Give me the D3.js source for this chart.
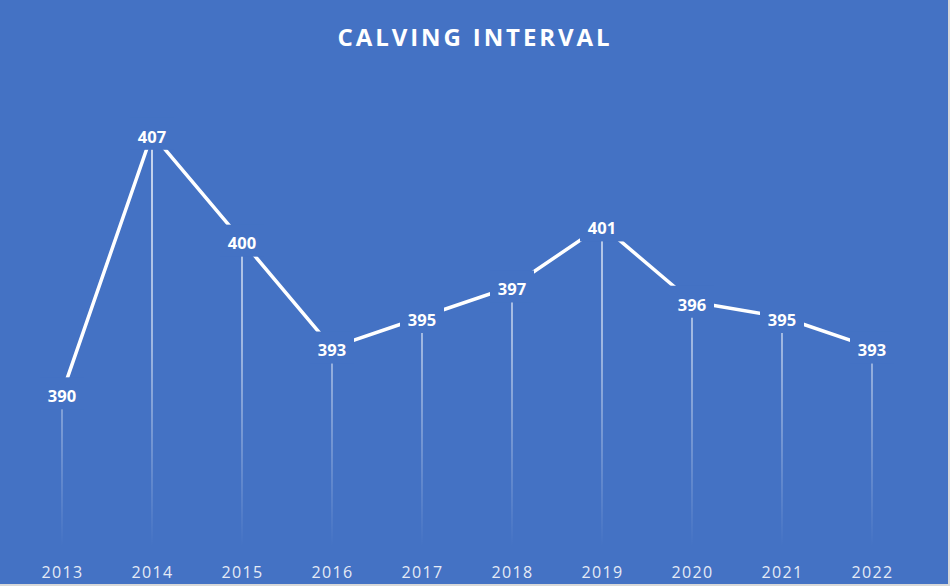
<!DOCTYPE html>
<html><head><meta charset="utf-8">
<script src="https://cdn.jsdelivr.net/npm/d3@7"></script>
<style>
html,body{margin:0;padding:0;background:#d9d9d9;}
svg{display:block;}
</style></head>
<body>
<svg id="chart" width="950" height="586"></svg>
<script>
const years = ["2013","2014","2015","2016","2017","2018","2019","2020","2021","2022"];
const values = [390,407,400,393,395,397,401,396,395,393];
const title = "CALVING INTERVAL";

const W = 950, H = 586;
const bg = "#4472C4";
const svg = d3.select("#chart");

svg.append("rect").attr("x",0).attr("y",0).attr("width",948).attr("height",584).attr("fill",bg);

const x = d3.scalePoint().domain(years).range([62, 872]);
const y = d3.scaleLinear().domain([380, 410]).range([546, 88]);

const defs = svg.append("defs");
const grad = defs.append("linearGradient").attr("id","dropGrad")
  .attr("gradientUnits","userSpaceOnUse").attr("x1",0).attr("x2",0).attr("y1",y(410)).attr("y2",y(380));
grad.append("stop").attr("offset","0%").attr("stop-color","#ffffff").attr("stop-opacity",0.85);
grad.append("stop").attr("offset","55%").attr("stop-color","#ffffff").attr("stop-opacity",0.55);
grad.append("stop").attr("offset","100%").attr("stop-color","#ffffff").attr("stop-opacity",0);

const data = years.map((yr,i)=>({yr, v: values[i]}));

// drop lines
svg.append("g").selectAll("rect").data(data).join("rect")
  .attr("x", d=>x(d.yr)-0.9).attr("width",1.8)
  .attr("y", d=>y(d.v)).attr("height", d=>y(380)-y(d.v))
  .attr("fill","url(#dropGrad)");

// line
svg.append("path").datum(data)
  .attr("fill","none").attr("stroke","#ffffff").attr("stroke-width",3.5)
  .attr("stroke-linejoin","round")
  .attr("d", d3.line().x(d=>x(d.yr)).y(d=>y(d.v)));

// data labels with background boxes
const lbl = svg.append("g").selectAll("g").data(data).join("g")
  .attr("transform", d=>`translate(${x(d.yr)},${y(d.v)})`);
lbl.append("rect").attr("x",-22).attr("y",-16).attr("width",44).attr("height",32).attr("fill",bg);
lbl.append("text").attr("text-anchor","middle").attr("y",8.8)
  .attr("font-family","'Open Sans', sans-serif").attr("font-weight","bold").attr("font-size",16.5)
  .attr("fill","#ffffff").text(d=>d.v);

// x axis labels
const xAxis = d3.axisBottom(x).tickSize(0).tickPadding(0);
const ax = svg.append("g").attr("transform","translate(0,578)").call(xAxis);
ax.select(".domain").remove();
ax.selectAll("text").attr("y",0).attr("dy",0)
  .attr("font-family","'Open Sans', sans-serif").attr("font-size",16)
  .attr("letter-spacing","1.3px")
  .attr("fill","#e6ebf5");

// title
svg.append("text").attr("x",475).attr("y",46).attr("text-anchor","middle")
  .attr("font-family","'Open Sans', sans-serif").attr("font-weight","bold").attr("font-size",24)
  .attr("letter-spacing","2.9px").attr("fill","#ffffff").text(title);
</script>
</body></html>
